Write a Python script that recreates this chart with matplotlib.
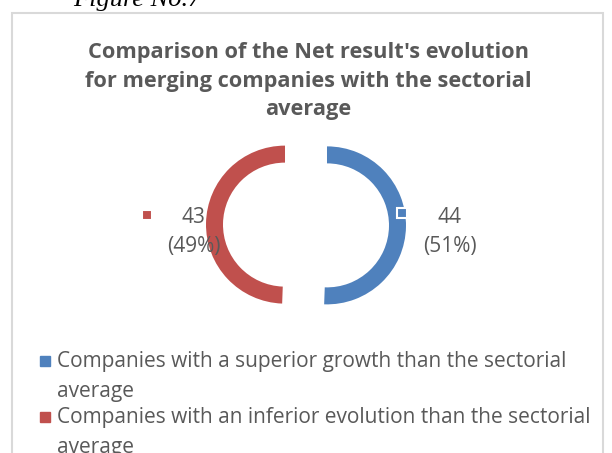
import numpy as np
import matplotlib
matplotlib.use("Agg")
import matplotlib.pyplot as plt
from matplotlib.patches import Rectangle
from matplotlib.lines import Line2D

# ---- data -------------------------------------------------------------
categories = [
    "Companies with a superior growth than the sectorial\naverage",
    "Companies with an inferior evolution than the sectorial\naverage",
]
counts = [44, 43]
colors = ["#4F81BD", "#C0504D"]
title_lines = [
    "Comparison of the Net result's evolution",
    "for merging companies with the sectorial",
    "average",
]
caption = "Figure No.7"

# ---- canvas (axes in pixel units, y measured from the top via Y()) -----
W, H = 612, 453
fig = plt.figure(figsize=(W / 100, H / 100), dpi=100)
ax = fig.add_axes([0, 0, 1, 1])


def Y(y):
    return H - y


TEXT = "#595959"
FONT = "Open Sans"

# chart frame
ax.add_patch(Rectangle((12, Y(470)), 591, 470 - 13, fill=False,
                       edgecolor="#D9D9D9", linewidth=1.5, zorder=1))

# caption above the frame
ax.text(73, Y(6), caption, family="Liberation Serif", style="italic",
        fontsize=19, color="black", ha="left", va="baseline")

# title
for line, yb in zip(title_lines, [58, 87, 115]):
    ax.text(308, Y(yb), line, family=FONT, fontweight="bold", fontsize=15.7,
            color=TEXT, ha="center", va="baseline")

# exploded doughnut
R, RING, EXPL = 79, 17, 21
wedges, _ = ax.pie(counts, colors=colors, startangle=90, counterclock=False,
                   radius=R, center=(306, Y(225)), explode=[EXPL, EXPL],
                   wedgeprops=dict(width=RING, edgecolor="none"))
ax.set_xlim(0, W)
ax.set_ylim(0, H)
ax.set_aspect("equal")
ax.axis("off")

# data labels: key marker + count + percentage, anchored on each wedge
total = sum(counts)
label_offsets = [  # (marker dx, marker dy, text dx, first baseline dy)
    (-4, -14, 44, -4),
    (59.5, -8, 12.5, 0),
]
for w, n, col, (mdx, mdy, tdx, tdy) in zip(wedges, counts, colors, label_offsets):
    mid = np.deg2rad(0.5 * (w.theta1 + w.theta2))
    cx, cy = w.center
    ax_x = cx + w.r * np.cos(mid)
    ax_y = cy + w.r * np.sin(mid)
    side = 1 if np.cos(mid) >= 0 else -1
    mx = ax_x + mdx if side > 0 else ax_x - mdx
    tx = ax_x + tdx if side > 0 else ax_x - tdx
    ax.add_line(Line2D([mx], [ax_y - mdy], marker="s", markersize=7,
                       markerfacecolor=col, markeredgecolor="white",
                       markeredgewidth=1.5, linestyle="none", zorder=5))
    pct = f"({100 * n / total:.0f}%)"
    base = ax_y - tdy
    ax.text(tx, base, f"{n}", family=FONT, fontsize=15, color=TEXT,
            ha="center", va="baseline", zorder=6)
    ax.text(tx, base - 29, pct, family=FONT, fontsize=15, color=TEXT,
            ha="center", va="baseline", zorder=6)

# legend
legend_rows = [(361, [367, 397]), (417, [423, 453])]
for label, col, (my, bases) in zip(categories, colors, legend_rows):
    ax.add_line(Line2D([44.5], [Y(my)], marker="s", markersize=6.5,
                       markerfacecolor=col, markeredgecolor=col,
                       linestyle="none"))
    for line, yb in zip(label.split("\n"), bases):
        ax.text(57, Y(yb), line, family=FONT, fontsize=15, color=TEXT,
                ha="left", va="baseline")

fig.savefig("out.png", dpi=100)
